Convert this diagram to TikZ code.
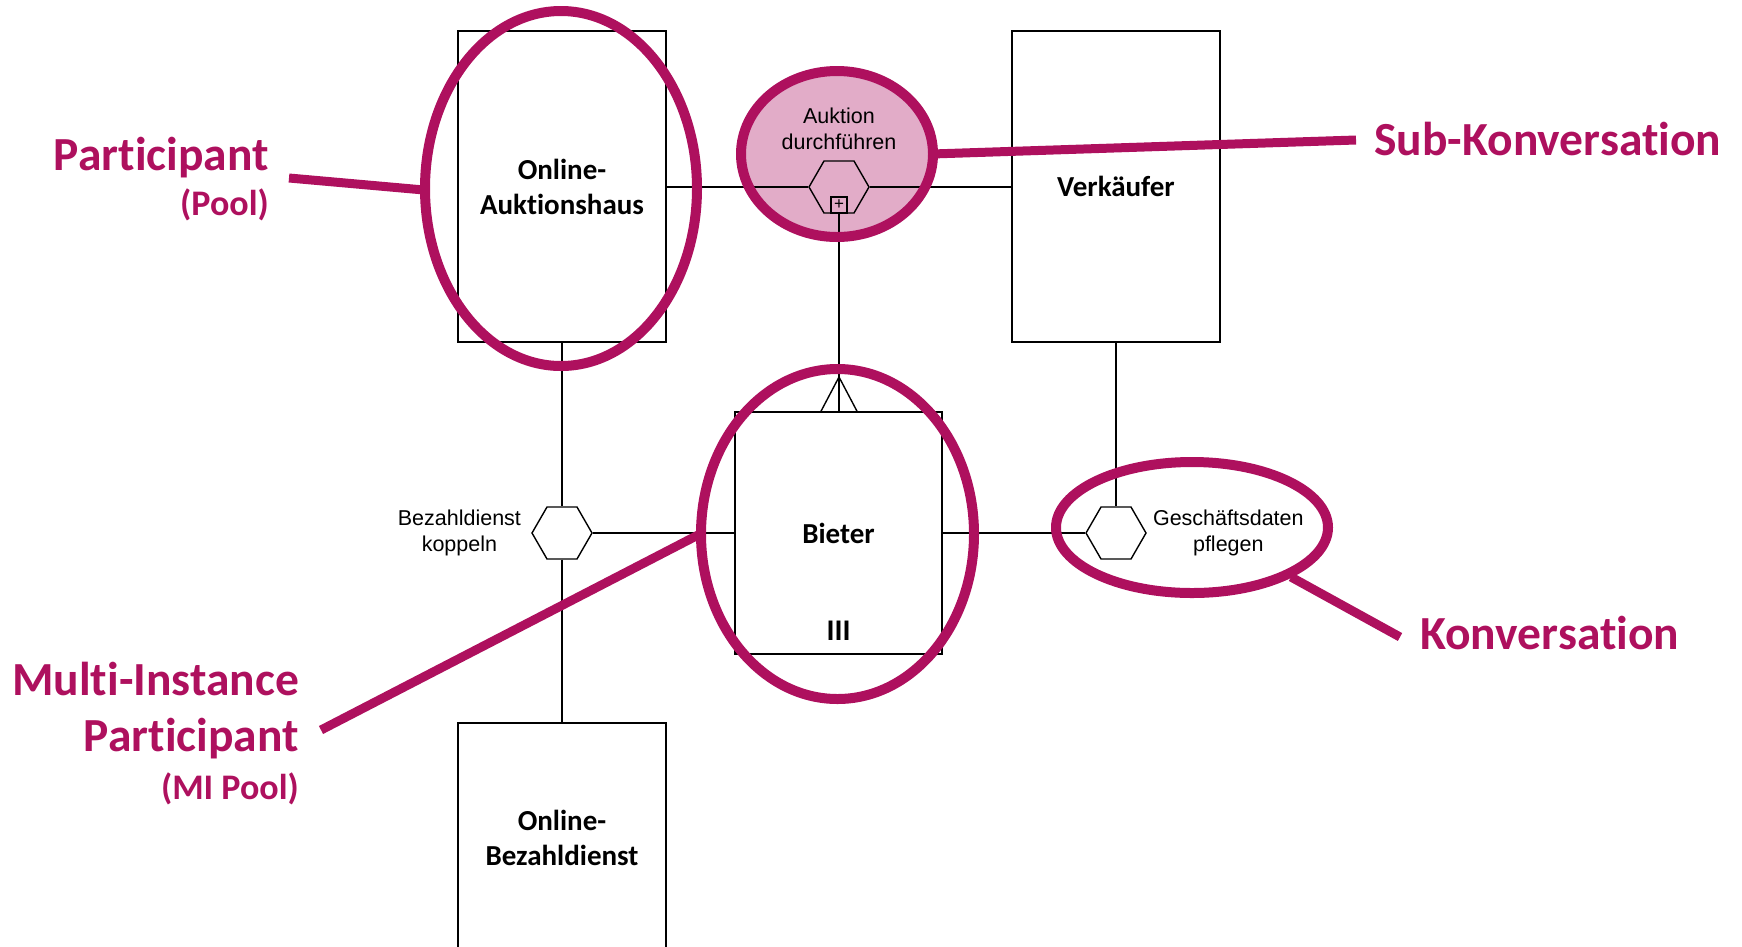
\documentclass[tikz,border=0pt]{standalone}
\usepackage{fontspec}
\setmainfont[Ligatures=NoCommon]{Carlito}
\newfontfamily\arialf{Liberation Sans}
\usetikzlibrary{shapes.geometric}
\definecolor{mag}{RGB}{174,16,94}
\definecolor{pinkf}{RGB}{226,172,200}
\begin{document}
\begin{tikzpicture}[x=1pt,y=-1pt,
 pool/.style={draw, line width=1.6pt, minimum width=208pt, inner sep=0pt, font=\fontsize{29}{35}\selectfont\bfseries, align=center},
 conv/.style={draw, line width=1.4pt, regular polygon, regular polygon sides=6, minimum size=60pt, inner sep=0pt},
 lnk/.style={line width=1.4pt},
 hl/.style={draw=mag, line width=10pt},
 ptr/.style={draw=mag, line width=9pt},
 lab/.style={text=mag, font=\fontsize{47.5}{52}\selectfont\bfseries, inner sep=0pt},
 sublab/.style={text=mag, font=\fontsize{36}{40}\selectfont\bfseries, inner sep=0pt},
 clab/.style={font=\arialf\fontsize{21.5}{26.5}\selectfont, align=center, inner sep=0pt}]
\useasboundingbox (0,0) rectangle (1742,946);
\clip (0,0) rectangle (1742,946);
% pink fill of the sub-conversation highlight
\fill[pinkf] (837,154) ellipse [x radius=96, y radius=83];
% pools
\node[pool, minimum height=311pt] (haus) at (562,186.5) {Online-\\Auktionshaus};
\node[pool, minimum height=311pt] (verk) at (1116,186.5) {Verkäufer};
\node[pool, minimum width=207pt, minimum height=242pt] (bieter) at (838.5,533) {Bieter};
\node[font=\fontsize{30}{34}\selectfont\bfseries, inner sep=0pt] (mi) at (838.5,631) {III};
\node[pool, minimum height=229pt] (zahl) at (562,837.5) {Online-\\Bezahldienst};
% conversations
\node[conv] (hsub) at (839,187) {};
\node[conv, fill=white] (hzahl) at (562,533) {};
\node[conv, fill=white] (hgesch) at (1116,533) {};
\node[draw, line width=1.2pt, minimum size=16pt, inner sep=0pt, anchor=south, font=\arialf\fontsize{17}{17}\selectfont] (plus) at (hsub.south) {+};
\node[clab, anchor=south] (tsub) at (839,150) {Auktion\\durchführen};
\node[clab, anchor=east] (tzahl) at ([xshift=-10pt]hzahl.west) {Bezahldienst\\koppeln};
\node[clab, anchor=west] (tgesch) at ([xshift=6pt]hgesch.east) {Geschäftsdaten\\pflegen};
% links
\draw[lnk] (haus.east |- hsub.west) -- (hsub.west);
\draw[lnk] (hsub.east) -- (verk.west |- hsub.east);
\draw[lnk] (plus.south) -- (bieter.north -| plus.south);
\coordinate (apex) at (839,377);
\draw[lnk] ([xshift=-18pt]bieter.north -| apex) -- (apex) -- ([xshift=18pt]bieter.north -| apex);
\draw[lnk] (haus.south) -- (hzahl.north);
\draw[lnk] (hzahl.south) -- (zahl.north);
\draw[lnk] (hzahl.east) -- (bieter.west |- hzahl.east);
\draw[lnk] (bieter.east |- hgesch.west) -- (hgesch.west);
\draw[lnk] (verk.south) -- (hgesch.north);
% highlight ellipses
\draw[hl] (561,188.5) ellipse [x radius=136, y radius=177.5];
\draw[hl] (837,154) ellipse [x radius=96, y radius=83];
\draw[hl] (837.5,534) ellipse [x radius=136.5, y radius=165];
\draw[hl] (1192,527.5) ellipse [x radius=136, y radius=65.5];
% annotation labels
\node[lab, anchor=base east] (lpart) at (269,170) {Participant};
\node[sublab, anchor=base east] (lpool) at (269,215) {(Pool)};
\node[lab, anchor=base west] (lsub) at (1374,155) {Sub-Konversation};
\node[lab, anchor=base west] (lkonv) at (1420,649) {Konversation};
\node[lab, anchor=base east] (lmi1) at (299,695) {Multi-Instance};
\node[lab, anchor=base east] (lmi2) at (299,751) {Participant};
\node[sublab, anchor=base east] (lmi3) at (299,799) {(MI Pool)};
% pointers
\coordinate (p1a) at (289,178); \coordinate (p1b) at (424,190);
\coordinate (p2a) at (932,154); \coordinate (p2b) at (1356,140);
\coordinate (p3a) at (321,730); \coordinate (p3b) at (702,533);
\coordinate (p4a) at (1291,577); \coordinate (p4b) at (1400,637);
\draw[ptr] (p1a) -- (p1b);
\draw[ptr] (p2a) -- (p2b);
\draw[ptr] (p3a) -- (p3b);
\draw[ptr] (p4a) -- (p4b);
\end{tikzpicture}
\end{document}
